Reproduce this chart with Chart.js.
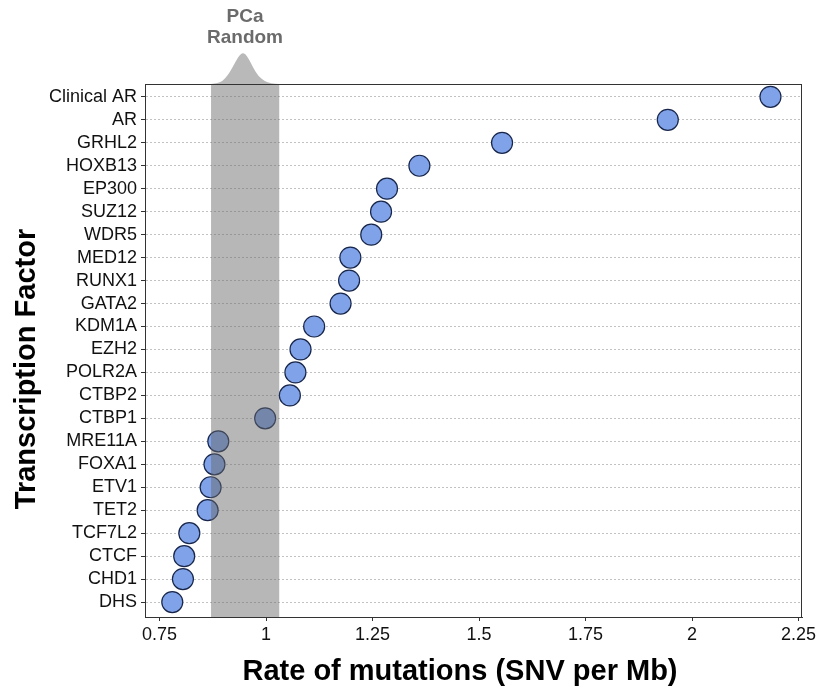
<!DOCTYPE html>
<html>
<head>
<meta charset="utf-8">
<script src="https://cdn.jsdelivr.net/npm/chart.js@4/dist/chart.umd.min.js"></script>
<style>
  body { margin: 0; background: #fff; }
  canvas { display: block; }
</style>
</head>
<body>
<canvas id="rateChart" width="820" height="695"></canvas>
<script>
// transcription factors, top to bottom
const factors = ['Clinical AR', 'AR', 'GRHL2', 'HOXB13', 'EP300', 'SUZ12', 'WDR5', 'MED12',
    'RUNX1', 'GATA2', 'KDM1A', 'EZH2', 'POLR2A', 'CTBP2', 'CTBP1', 'MRE11A', 'FOXA1',
    'ETV1', 'TET2', 'TCF7L2', 'CTCF', 'CHD1', 'DHS'];

// SNV per Mb for each factor
const rates = [2.184, 1.943, 1.554, 1.360, 1.284, 1.270, 1.247, 1.198, 1.195, 1.175,
    1.113, 1.081, 1.069, 1.056, 0.998, 0.888, 0.879, 0.870, 0.863, 0.820, 0.808, 0.805, 0.780];

// x axis ticks
const xTicks = [0.75, 1, 1.25, 1.5, 1.75, 2, 2.25];

// random background (PCa) range and its density profile
const randomRange = [0.871, 1.031];
const densityX = [0.871, 0.885, 0.898, 0.910, 0.920, 0.930, 0.938, 0.945, 0.952, 0.960, 0.970, 0.982, 0.996, 1.012, 1.031];
const densityH = [0, 0.02, 0.09, 0.28, 0.50, 0.76, 0.94, 1.0, 0.96, 0.80, 0.52, 0.26, 0.09, 0.02, 0];

Chart.defaults.font.family = '"Liberation Sans", Arial, Helvetica, sans-serif';
Chart.defaults.color = '#111';

// 随机区间、密度曲线、边框和坐标轴标题
const overlay = {
    id: 'overlay',
    afterDatasetsDraw(chart) {
        const { ctx, chartArea: a, scales: { x } } = chart;
        ctx.save();

        // 灰色区间（半透明，盖在点上）
        const x0 = x.getPixelForValue(randomRange[0]);
        const x1 = x.getPixelForValue(randomRange[1]);
        ctx.fillStyle = 'rgba(105,105,105,0.48)';
        ctx.fillRect(x0, a.top, x1 - x0, a.bottom - a.top);

        // 上方的密度曲线
        const pts = densityX.map((v, i) => [x.getPixelForValue(v), a.top - densityH[i] * 31]);
        ctx.beginPath();
        ctx.moveTo(pts[0][0], a.top);
        for (let i = 1; i < pts.length - 1; i++) {
            const mx = (pts[i][0] + pts[i + 1][0]) / 2;
            const my = (pts[i][1] + pts[i + 1][1]) / 2;
            ctx.quadraticCurveTo(pts[i][0], pts[i][1], mx, my);
        }
        ctx.lineTo(pts[pts.length - 1][0], a.top);
        ctx.closePath();
        ctx.fillStyle = '#b9b9b9';
        ctx.fill();

        // 图框
        ctx.strokeStyle = '#333';
        ctx.lineWidth = 1;
        ctx.strokeRect(a.left + 0.5, a.top + 0.5, a.right - a.left - 1, a.bottom - a.top);

        // 标题文字
        ctx.fillStyle = '#6b6b6b';
        ctx.font = 'bold 19px "Liberation Sans", Arial, sans-serif';
        ctx.textAlign = 'center';
        ctx.textBaseline = 'middle';
        ctx.fillText('PCa', 245, 17);
        ctx.fillText('Random', 245, 38);

        ctx.fillStyle = '#000';
        ctx.font = 'bold 29px "Liberation Sans", Arial, sans-serif';
        ctx.fillText('Rate of mutations (SNV per Mb)', 460, 672);

        ctx.translate(27, 369);
        ctx.rotate(-Math.PI / 2);
        ctx.fillText('Transcription Factor', 0, 0);
        ctx.restore();
    }
};

const ctx = document.getElementById('rateChart').getContext('2d');
new Chart(ctx, {
    type: 'scatter',
    data: {
        datasets: [{
            data: rates.map((r, i) => ({ x: r, y: i })),
            backgroundColor: '#80a2e9',
            borderColor: '#17264a',
            borderWidth: 1.2,
            pointRadius: 10.5,
            pointHoverRadius: 10.5
        }]
    },
    options: {
        responsive: false,
        animation: false,
        layout: { padding: { top: 84, right: 18, left: 0, bottom: 0 } },
        plugins: {
            legend: { display: false },
            tooltip: { enabled: false }
        },
        scales: {
            x: {
                type: 'linear',
                min: 0.716,
                max: 2.258,
                afterFit: s => { s.height = 78; },
                afterBuildTicks: s => { s.ticks = xTicks.map(v => ({ value: v })); },
                ticks: {
                    font: { size: 18 },
                    color: '#111',
                    padding: 3,
                    maxRotation: 0,
                    callback: v => String(v)
                },
                grid: {
                    drawOnChartArea: false,
                    tickLength: 4,
                    tickColor: '#333'
                },
                border: { color: '#333' }
            },
            y: {
                type: 'linear',
                reverse: true,
                min: -0.56,
                max: factors.length - 0.35,
                afterFit: s => { s.width = 145; },
                afterBuildTicks: s => { s.ticks = factors.map((f, i) => ({ value: i })); },
                ticks: {
                    font: { size: 18 },
                    color: '#111',
                    padding: 4,
                    autoSkip: false,
                    callback: v => factors[v]
                },
                grid: {
                    color: '#c2c2c2',
                    tickLength: 4,
                    tickColor: '#333',
                    tickBorderDash: []
                },
                border: { color: '#333', dash: [2, 2] }
            }
        }
    },
    plugins: [overlay]
});
</script>
</body>
</html>
